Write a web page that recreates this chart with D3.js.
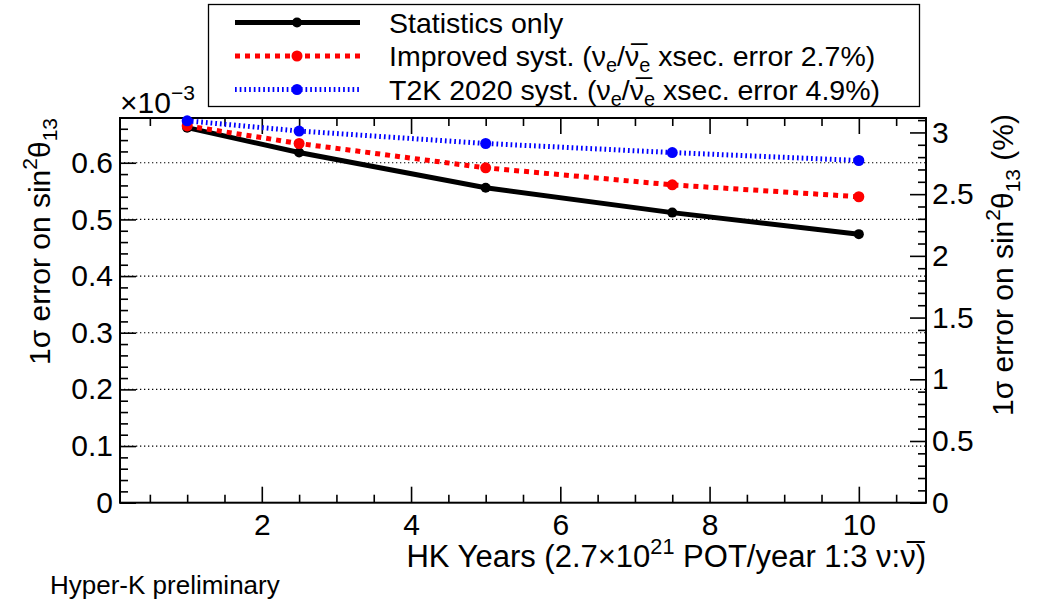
<!DOCTYPE html>
<html>
<head>
<meta charset="utf-8">
<script src="https://cdn.jsdelivr.net/npm/d3@7"></script>
<style>
  html, body { margin: 0; padding: 0; background: #fff; }
  svg { display: block; }
  text { font-family: "Liberation Sans", Arial, Helvetica, sans-serif; fill: #000; }
</style>
</head>
<body>
<svg id="chart" width="1048" height="605"></svg>
<script>
// ---------------- DATA ----------------
const years = [1, 2.5, 5, 7.5, 10];
// 1 sigma error on sin^2 theta13, in units of 1e-3
const statsOnly    = [0.662, 0.618, 0.556, 0.512, 0.474];
const improvedSyst = [0.665, 0.634, 0.591, 0.561, 0.540];
const t2k2020Syst  = [0.674, 0.656, 0.634, 0.618, 0.604];

const xTickValues = [2, 4, 6, 8, 10];
const yTickValues = [0, 0.1, 0.2, 0.3, 0.4, 0.5, 0.6];
const rightTickValues = [0, 0.5, 1, 1.5, 2, 2.5, 3];

const seriesLabels = ["Statistics only", "Improved syst.", "T2K 2020 syst."];

// ---------------- LAYOUT ----------------
const svg = d3.select("#chart");
const L = 120, R = 926, T = 118, B = 502.7;
const x = d3.scaleLinear().domain([0.1, 10.9]).range([L, R]);
const y = d3.scaleLinear().domain([0, 0.679]).range([B, T]);
const y2 = d3.scaleLinear().domain([0, 3.117]).range([B, T]);

const FS = 30;

// gridlines (horizontal, dotted)
svg.append("g").selectAll("line")
  .data(yTickValues.filter(v => v > 0))
  .join("line")
  .attr("x1", L).attr("x2", R)
  .attr("y1", d => y(d)).attr("y2", d => y(d))
  .attr("stroke", "#000").attr("stroke-width", 1.2)
  .attr("stroke-dasharray", "1.3,2.7");

function styleAxis(g) {
  g.select(".domain").remove();
  g.selectAll(".tick line").attr("stroke", "#000").attr("stroke-width", 1.6);
  g.selectAll(".tick text").attr("font-size", FS).attr("font-family", "Liberation Sans, Arial, sans-serif").attr("fill", "#000");
}

const rng = (a, b, s) => d3.range(Math.round((b - a) / s) + 1).map(i => +(a + i * s).toFixed(6));

// bottom axis
const xMinor = rng(0.5, 10.5, 0.5).filter(v => !xTickValues.includes(v));
svg.append("g").attr("transform", `translate(0,${B})`)
  .call(d3.axisBottom(x).tickValues(xMinor).tickSizeInner(-8).tickSizeOuter(0).tickFormat(""))
  .call(styleAxis);
svg.append("g").attr("transform", `translate(0,${B})`)
  .call(d3.axisBottom(x).tickValues(xTickValues).tickSizeInner(-16).tickSizeOuter(0).tickPadding(11).tickFormat(d3.format("d")))
  .call(styleAxis);
// top axis (ticks only)
svg.append("g").attr("transform", `translate(0,${T})`)
  .call(d3.axisTop(x).tickValues(xMinor).tickSizeInner(-8).tickSizeOuter(0).tickFormat(""))
  .call(styleAxis);
svg.append("g").attr("transform", `translate(0,${T})`)
  .call(d3.axisTop(x).tickValues(xTickValues).tickSizeInner(-16).tickSizeOuter(0).tickFormat(""))
  .call(styleAxis);

// left axis
const yMinor = rng(0.02, 0.66, 0.02).filter(v => !yTickValues.some(t => Math.abs(t - v) < 1e-6));
svg.append("g").attr("transform", `translate(${L},0)`)
  .call(d3.axisLeft(y).tickValues(yMinor).tickSizeInner(-8).tickSizeOuter(0).tickFormat(""))
  .call(styleAxis);
svg.append("g").attr("transform", `translate(${L},0)`)
  .call(d3.axisLeft(y).tickValues(yTickValues).tickSizeInner(-16).tickSizeOuter(0).tickPadding(7).tickFormat(d => d === 0 ? "0" : d3.format(".1f")(d)))
  .call(styleAxis);

// right axis
const rMinor = rng(0.1, 3.1, 0.1).filter(v => !rightTickValues.some(t => Math.abs(t - v) < 1e-6));
svg.append("g").attr("transform", `translate(${R},0)`)
  .call(d3.axisRight(y2).tickValues(rMinor).tickSizeInner(-8).tickSizeOuter(0).tickFormat(""))
  .call(styleAxis);
svg.append("g").attr("transform", `translate(${R},0)`)
  .call(d3.axisRight(y2).tickValues(rightTickValues).tickSizeInner(-16).tickSizeOuter(0).tickPadding(6).tickFormat(d => d3.format("")(d)))
  .call(styleAxis);

// frame
svg.append("rect").attr("x", L).attr("y", T).attr("width", R - L).attr("height", B - T)
  .attr("fill", "none").attr("stroke", "#000").attr("stroke-width", 2);

// ---------------- SERIES ----------------
const series = [
  { name: seriesLabels[0], values: statsOnly,    color: "#000000", dash: null,    r: 5 },
  { name: seriesLabels[1], values: improvedSyst, color: "#ff0000", dash: "5,5",   r: 5.5 },
  { name: seriesLabels[2], values: t2k2020Syst,  color: "#0000ff", dash: "1.7,3", r: 5.5 }
];
const line = d3.line().x((d, i) => x(years[i])).y(d => y(d));

series.forEach(s => {
  const g = svg.append("g");
  g.append("path").datum(s.values).attr("d", line)
    .attr("fill", "none").attr("stroke", s.color).attr("stroke-width", 5)
    .attr("stroke-dasharray", s.dash);
  g.selectAll("circle").data(s.values).join("circle")
    .attr("cx", (d, i) => x(years[i])).attr("cy", d => y(d)).attr("r", s.r)
    .attr("fill", s.color);
});

// ---------------- TEXT HELPERS ----------------
function rich(sel, parts, size) {
  let pending = 0;
  sel.attr("font-size", size);
  parts.forEach(p => {
    if (typeof p === "string") {
      const ts = sel.append("tspan").attr("font-size", size).text(p);
      if (pending) ts.attr("dy", pending);
      pending = 0;
    } else {
      const sz = size * 0.7;
      const shift = p.sup ? -size * 0.42 : size * 0.22;
      sel.append("tspan").attr("font-size", sz).attr("dy", shift + pending).text(p.t);
      pending = -shift;
    }
  });
}

// ---------------- LEGEND ----------------
const lg = svg.append("g");
lg.append("rect").attr("x", 208.5).attr("y", 4.5).attr("width", 711).attr("height", 102)
  .attr("fill", "#fff").attr("stroke", "#000").attr("stroke-width", 1.3);
const legendRows = [22.5, 56, 89.5];
const legendTexts = [
  [seriesLabels[0]],
  [seriesLabels[1] + " (\u03BD", {t: "e", sub: true}, "/\u03BD\u0305", {t: "e", sub: true}, " xsec. error 2.7%)"],
  [seriesLabels[2] + " (\u03BD", {t: "e", sub: true}, "/\u03BD\u0305", {t: "e", sub: true}, " xsec. error 4.9%)"]
];
series.forEach((s, i) => {
  const yy = legendRows[i];
  lg.append("line").attr("x1", 235).attr("x2", 360).attr("y1", yy).attr("y2", yy)
    .attr("stroke", s.color).attr("stroke-width", 5).attr("stroke-dasharray", s.dash);
  lg.append("circle").attr("cx", 297).attr("cy", yy).attr("r", s.r).attr("fill", s.color);
  const t = lg.append("text").attr("x", 389).attr("y", yy + 10.2);
  rich(t, legendTexts[i], 28.5);
});

// ---------------- AXIS TITLES ----------------
const xt = svg.append("text").attr("x", R).attr("y", 567).attr("text-anchor", "end");
rich(xt, ["HK Years (2.7\u00D710", {t: "21", sup: true}, " POT/year 1:3 \u03BD:\u03BD\u0305)"], 31);

const yt = svg.append("text").attr("transform", `translate(50,${T}) rotate(-90)`).attr("text-anchor", "end");
rich(yt, ["1\u03C3 error on sin", {t: "2", sup: true}, "\u03B8", {t: "13", sub: true}], FS);

const y2t = svg.append("text").attr("transform", `translate(1013,${T - 4}) rotate(-90)`).attr("text-anchor", "end");
rich(y2t, ["1\u03C3 error on sin", {t: "2", sup: true}, "\u03B8", {t: "13", sub: true}, " (%)"], FS);

// exponent label
const ex = svg.append("text").attr("x", 120).attr("y", 112.5);
rich(ex, ["\u00D710", {t: "\u22123", sup: true}], FS);

// preliminary
svg.append("text").attr("x", 50).attr("y", 594).attr("font-size", 26).text("Hyper-K preliminary");
</script>
</body>
</html>
